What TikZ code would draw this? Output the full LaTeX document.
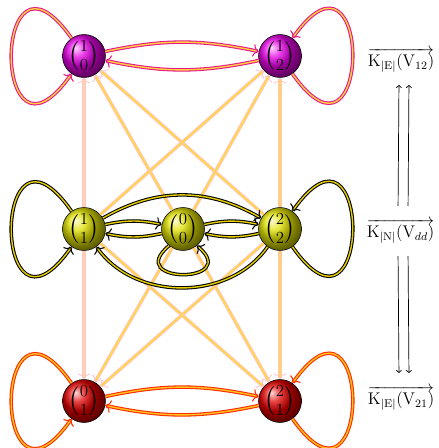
\documentclass[tikz,border=0pt]{standalone}
\usepackage{amsmath,amssymb}
\usetikzlibrary{arrows.meta,positioning,calc}
\definecolor{toprim}{HTML}{E8168C}
\definecolor{topfill}{HTML}{FFD23C}
\definecolor{midfill}{HTML}{E6CF00}
\definecolor{botrim}{HTML}{FF2A00}
\definecolor{botfill}{HTML}{FFC21E}
\definecolor{lightrim}{HTML}{FFC4CE}
\definecolor{lightfill}{HTML}{FFD84A}
\definecolor{peachfill}{HTML}{FFD6A8}

\begin{document}
\begin{tikzpicture}[x=0.025cm,y=-0.025cm,
    state/.style={circle,draw=black,thin,minimum size=1.05cm,inner sep=0pt,font=\LARGE},
    topball/.style={state,ball color=magenta!90!black},
    midball/.style={state,ball color=yellow!88!black},
    botball/.style={state,ball color=red!88!black},
    dbl/.style={line width=0.75pt,double distance=1pt,-{To[length=4pt,width=9pt]}},
    topedge/.style={dbl,draw=toprim,double=topfill},
    midedge/.style={dbl,draw=black,double=midfill},
    botedge/.style={dbl,draw=botrim,double=botfill},
    lightedge/.style={line width=0.6pt,double distance=1.3pt,draw=lightrim,double=lightfill,
      -{To[length=4pt,width=9pt]}},
    peachedge/.style={lightedge,double=peachfill},
    updown/.style={-{To[length=2pt,width=4pt]},line width=0.5pt,shorten <=0.2cm,shorten >=0.2cm}]
  \useasboundingbox (0,0) rectangle (439,448);

  % states
  \node[topball] (a10) at (84,56) {$\binom{1}{0}$};
  \node[topball] (a12) at (280,56) {$\binom{1}{2}$};
  \node[midball] (b11) at (84,229) {$\binom{1}{1}$};
  \node[midball] (b00) at (183,229) {$\binom{0}{0}$};
  \node[midball] (b22) at (280,229) {$\binom{2}{2}$};
  \node[botball] (c01) at (84,401) {$\binom{0}{1}$};
  \node[botball] (c21) at (280,401) {$\binom{2}{1}$};

  % middle row to outer rows
  \foreach \s/\t in {b00/a10,b22/a10,b00/a12,b11/a12,b22/a12,
                     b00/c01,b22/c01,b00/c21,b11/c21,b22/c21}
    \draw[lightedge] (\s) -- (\t);
  \draw[peachedge] (b11) -- (a10);
  \draw[peachedge] (b11) -- (c01);

  % top row
  \draw[topedge] (a10) to[bend left=12] (a12);
  \draw[topedge] (a12) to[bend left=12] (a10);
  \draw[topedge] (a10.125) .. controls +(125:3.5cm) and +(235:3.5cm) .. (a10.235);
  \draw[topedge] (a12.-55) .. controls +(-55:3.5cm) and +(55:3.5cm) .. (a12.55);

  % middle row
  \draw[midedge] (b11) to[bend left=12] (b00);
  \draw[midedge] (b00) to[bend left=12] (b11);
  \draw[midedge] (b00) to[bend left=12] (b22);
  \draw[midedge] (b22) to[bend left=12] (b00);
  \draw[midedge] (b11) to[out=30,in=150] (b22);
  \draw[midedge] (b22) to[out=-125,in=-55] (b11);
  \draw[midedge] (b11.125) .. controls +(125:3.5cm) and +(235:3.5cm) .. (b11.235);
  \draw[midedge] (b22.-55) .. controls +(-55:3.5cm) and +(55:3.5cm) .. (b22.55);
  \draw[midedge] (b00.230) .. controls +(-140:1.5cm) and +(-40:1.5cm) .. (b00.310);

  % bottom row
  \draw[botedge] (c01) to[bend left=12] (c21);
  \draw[botedge] (c21) to[bend left=12] (c01);
  \draw[botedge] (c01.125) .. controls +(125:3.5cm) and +(235:3.5cm) .. (c01.235);
  \draw[botedge] (c21.-55) .. controls +(-55:3.5cm) and +(55:3.5cm) .. (c21.55);

  % complexes
  \node[anchor=west,font=\large] (k12) at (363,60) {$\overrightarrow{\mathrm{K}_{|\mathrm{E}|}(\mathrm{V}_{12})}$};
  \node[anchor=west,font=\large] (kN) at (362,231) {$\overrightarrow{\mathrm{K}_{|\mathrm{N}|}(\mathrm{V}_{dd})}$};
  \node[anchor=west,font=\large] (k21) at (363,398) {$\overrightarrow{\mathrm{K}_{|\mathrm{E}|}(\mathrm{V}_{21})}$};
  \draw[updown] ([xshift=0.9cm]kN.north west) -- ([xshift=0.9cm]k12.south west);
  \draw[updown] ([xshift=1.15cm]kN.north west) -- ([xshift=1.15cm]k12.south west);
  \draw[updown] ([xshift=0.9cm]kN.south west) -- ([xshift=0.9cm]k21.north west);
  \draw[updown] ([xshift=1.15cm]kN.south west) -- ([xshift=1.15cm]k21.north west);
\end{tikzpicture}
\end{document}
